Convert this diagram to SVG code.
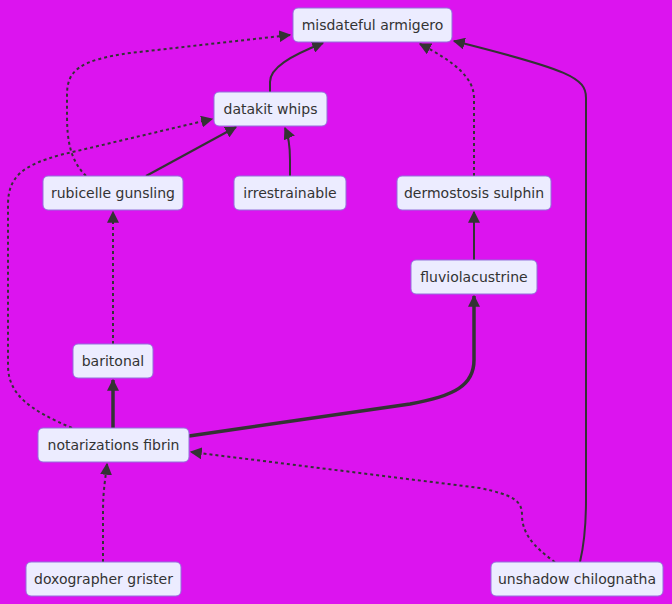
<svg xmlns="http://www.w3.org/2000/svg" width="672" height="604" viewBox="0 0 672 604">
<style>
.bg{fill:#DC14EF}
.node rect{fill:#ECECFF;stroke:#9370DB;stroke-width:1}
.node text{font-family:"DejaVu Sans",sans-serif;font-size:14px;fill:#333;text-anchor:middle;dominant-baseline:central}
.e{fill:none;stroke:#333;stroke-width:2}
.d{stroke-dasharray:3 3}
.t{stroke-width:3.5}
</style>
<defs>
<marker id="ah" viewBox="0 0 10 10" refX="9" refY="5" markerWidth="6" markerHeight="6" markerUnits="userSpaceOnUse" orient="auto"><path d="M0,0 L10,5 L0,10 z" fill="#333"/></marker>
<marker id="ahb" viewBox="0 0 10 10" refX="9" refY="5" markerWidth="12" markerHeight="12" orient="auto-start-reverse" markerUnits="userSpaceOnUse"><path d="M0,0 L10,5 L0,10 z" fill="#333"/></marker>
</defs>
<rect class="bg" x="0" y="0" width="672" height="604"/>
<g id="connectors">
<path class="e" d="M270,92 L270,82 C270,68 290,56 323,43" marker-end="url(#ahb)"/>
<path class="e d" d="M86,176 C70,160 67,140 67,115 L67,95 C67,70 80,60 130,53 L290,35" marker-end="url(#ahb)"/>
<path class="e" d="M146,176 L236,127" marker-end="url(#ahb)"/>
<path class="e" d="M290,176 L290,160 C290,145 289,137 285,128" marker-end="url(#ahb)"/>
<path class="e d" d="M72,428 C30,410 8,395 8,365 L8,205 C8,175 25,165 60,155 L212,119" marker-end="url(#ahb)"/>
<path class="e d" d="M113,344 L113,212" marker-end="url(#ahb)"/>
<path class="e t" d="M113,428 L113,380" marker-end="url(#ahb)"/>
<path class="e t" d="M189,436 L410,404 C455,396 474,385 474,360 L474,296" marker-end="url(#ahb)"/>
<path class="e" d="M474,260 L474,212" marker-end="url(#ahb)"/>
<path class="e d" d="M474,176 L474,98 C474,78 455,62 420,44" marker-end="url(#ahb)"/>
<path class="e" d="M580,562 C584,545 586,525 586,500 L586,98 C586,78 570,70 454,41" marker-end="url(#ahb)"/>
<path class="e d" d="M555,562 C532,546 522,532 522,515 C522,500 512,495 480,488 L191,452" marker-end="url(#ahb)"/>
<path class="e d" d="M103,562 L103,510 C103,490 106,475 107,464" marker-end="url(#ahb)"/>
</g>
<g id="n-misdateful" class="node"><rect x="293" y="8" width="159" height="34" rx="5"/><text x="372.5" y="25">misdateful armigero</text></g>
<g id="n-datakit" class="node"><rect x="214" y="92" width="113" height="34" rx="5"/><text x="270.5" y="109">datakit whips</text></g>
<g id="n-rubicelle" class="node"><rect x="43" y="176" width="140" height="34" rx="5"/><text x="113" y="193">rubicelle gunsling</text></g>
<g id="n-irrestrainable" class="node"><rect x="234" y="176" width="112" height="34" rx="5"/><text x="290" y="193">irrestrainable</text></g>
<g id="n-dermostosis" class="node"><rect x="397" y="176" width="154" height="34" rx="5"/><text x="474" y="193">dermostosis sulphin</text></g>
<g id="n-fluvio" class="node"><rect x="411" y="260" width="126" height="34" rx="5"/><text x="474" y="277">fluviolacustrine</text></g>
<g id="n-baritonal" class="node"><rect x="73" y="344" width="80" height="34" rx="5"/><text x="113" y="361">baritonal</text></g>
<g id="n-notarizations" class="node"><rect x="38" y="428" width="151" height="34" rx="5"/><text x="113.5" y="445">notarizations fibrin</text></g>
<g id="n-doxographer" class="node"><rect x="26" y="562" width="155" height="34" rx="5"/><text x="103.5" y="579">doxographer grister</text></g>
<g id="n-unshadow" class="node"><rect x="491" y="562" width="172" height="34" rx="5"/><text x="577" y="579">unshadow chilognatha</text></g>
</svg>
